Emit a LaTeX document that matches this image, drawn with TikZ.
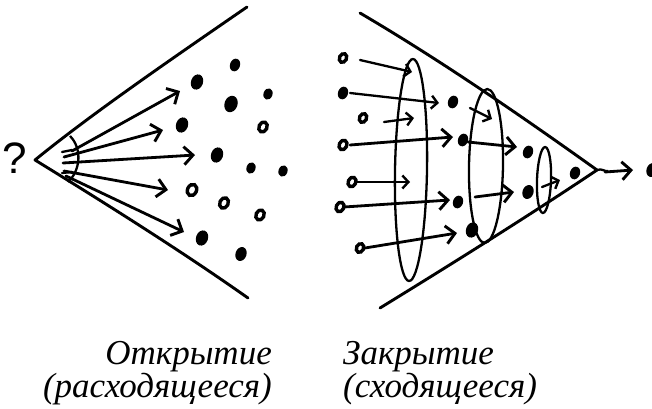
\documentclass[tikz,border=0pt]{standalone}
\usepackage{fontspec}
\setmainfont{Liberation Serif}
\setsansfont{Liberation Sans}
\usetikzlibrary{arrows.meta}
\tikzset{
  pen/.style={line width=2.9pt, line cap=round, line join=round},
  bigarrow/.style={line width=2.8pt, line cap=round, line join=round, -{Straight Barb[length=9pt,width=18pt,line width=2.9pt]}},
  smallarrow/.style={line width=2.3pt, line cap=round, line join=round, -{Straight Barb[length=6pt,width=13pt,line width=2.4pt]}},
  ring/.style={line width=2.3pt},
  lbl/.style={font=\fontsize{35}{40}\selectfont\itshape, inner sep=0pt},
}
\newcommand{\fdotx}[3]{\fill[rotate around={-20:(#1,#2)}] (#1,#2) ellipse [x radius=#3pt, y radius=1.3*#3pt];}
\newcommand{\odotx}[3]{\draw[line width=3.4pt, rotate around={-25:(#1,#2)}] (#1,#2) ellipse [x radius=#3pt, y radius=1.3*#3pt];}
\begin{document}
\begin{tikzpicture}[x=1pt,y=-1pt]
\useasboundingbox (0,0) rectangle (652,408);
% ---------- left: opening ----------
\coordinate (LA) at (35,160);
\coordinate (LT) at (247,7);
\coordinate (LB) at (248,298);
\draw[pen] (LT) .. controls (170,60) and (90,115) .. (LA) .. controls (100,200) and (180,250) .. (LB);
\draw[ring] (70,136) .. controls (82,148) and (81,170) .. (68,182);
\node[inner sep=0pt, font=\sffamily\fontsize{44}{44}\selectfont] (q) at (15,158) {?};
% arrows
\draw[bigarrow] (72,151) -- (180,91);
\draw[bigarrow] (64,157) -- (163,130);
\draw[bigarrow] (63,163) -- (195,155);
\draw[bigarrow] (64,171) -- (168,190);
\draw[bigarrow] (66,176) -- (184,232);
\draw[ring,line cap=round] (62,152) -- (72,150);
\draw[ring,line cap=round] (62,173) -- (72,172);
% dots
\fdotx{235}{65}{5}
\fdotx{197}{82}{6}
\fdotx{231}{104}{6.5}
\fdotx{268}{94}{4.5}
\fdotx{182}{125}{6}
\odotx{263}{127}{4}
\fdotx{217}{155}{6}
\fdotx{251}{168}{4.5}
\fdotx{283}{171}{4.5}
\odotx{192}{190}{4.5}
\odotx{224}{203}{4.2}
\odotx{260}{215}{4}
\fdotx{202}{238}{6}
\fdotx{241}{254}{5.5}
% ---------- right: closing ----------
\coordinate (RA) at (597,170);
\coordinate (RT) at (360,13);
\coordinate (RB) at (380,308);
\draw[pen] (RT) .. controls (440,60) and (520,115) .. (RA) .. controls (530,215) and (450,265) .. (RB);
\draw[ring] (RA) .. controls (602,168) and (605,172) .. (608,171);
% ellipses
\draw[ring, rotate around={-1:(411,170)}] (411,170) ellipse [x radius=16pt, y radius=111pt];
\draw[ring, rotate around={-1:(486,166)}] (486,166) ellipse [x radius=17pt, y radius=77pt];
\draw[ring, rotate around={-2:(544,180)}] (544,180) ellipse [x radius=7pt, y radius=33pt];
% source dots
\odotx{343}{58}{3.5}
\fdotx{343}{93}{5}
\odotx{363}{118}{3.5}
\odotx{343}{145}{3.8}
\odotx{352}{182}{3.8}
\odotx{340}{207}{3.8}
\odotx{360}{248}{3.5}
% intermediate dots
\fdotx{453}{102}{5}
\fdotx{463}{140}{5}
\fdotx{528}{152}{5}
\fdotx{458}{202}{5}
\fdotx{472}{230}{6}
\fdotx{528}{192}{5.5}
\fdotx{575}{173}{5}
\fdotx{652}{170}{5.5}
% arrows
\draw[smallarrow] (360,60) -- (412,72);
\draw[smallarrow] (350,93) -- (439,103);
\draw[smallarrow] (384,122) -- (414,118);
\draw[bigarrow] (350,145) -- (453,137);
\draw[smallarrow] (357,182) -- (410,182);
\draw[bigarrow] (344,207) -- (450,200);
\draw[bigarrow] (365,248) -- (457,233);
\draw[smallarrow] (470,108) -- (492,119);
\draw[bigarrow] (468,142) -- (517,147);
\draw[bigarrow] (475,197) -- (514,192);
\draw[smallarrow] (542,187) -- (560,180);
\draw[bigarrow] (605,172) -- (633,170);
% ---------- labels ----------
\node[lbl, anchor=base east] (t1) at (272,364) {Открытие};
\node[lbl, anchor=base east] (t2) at (272,397) {(расходящееся)};
\node[lbl, anchor=base west] (t3) at (343,364) {Закрытие};
\node[lbl, anchor=base west] (t4) at (343,397) {(сходящееся)};
\end{tikzpicture}
\end{document}
